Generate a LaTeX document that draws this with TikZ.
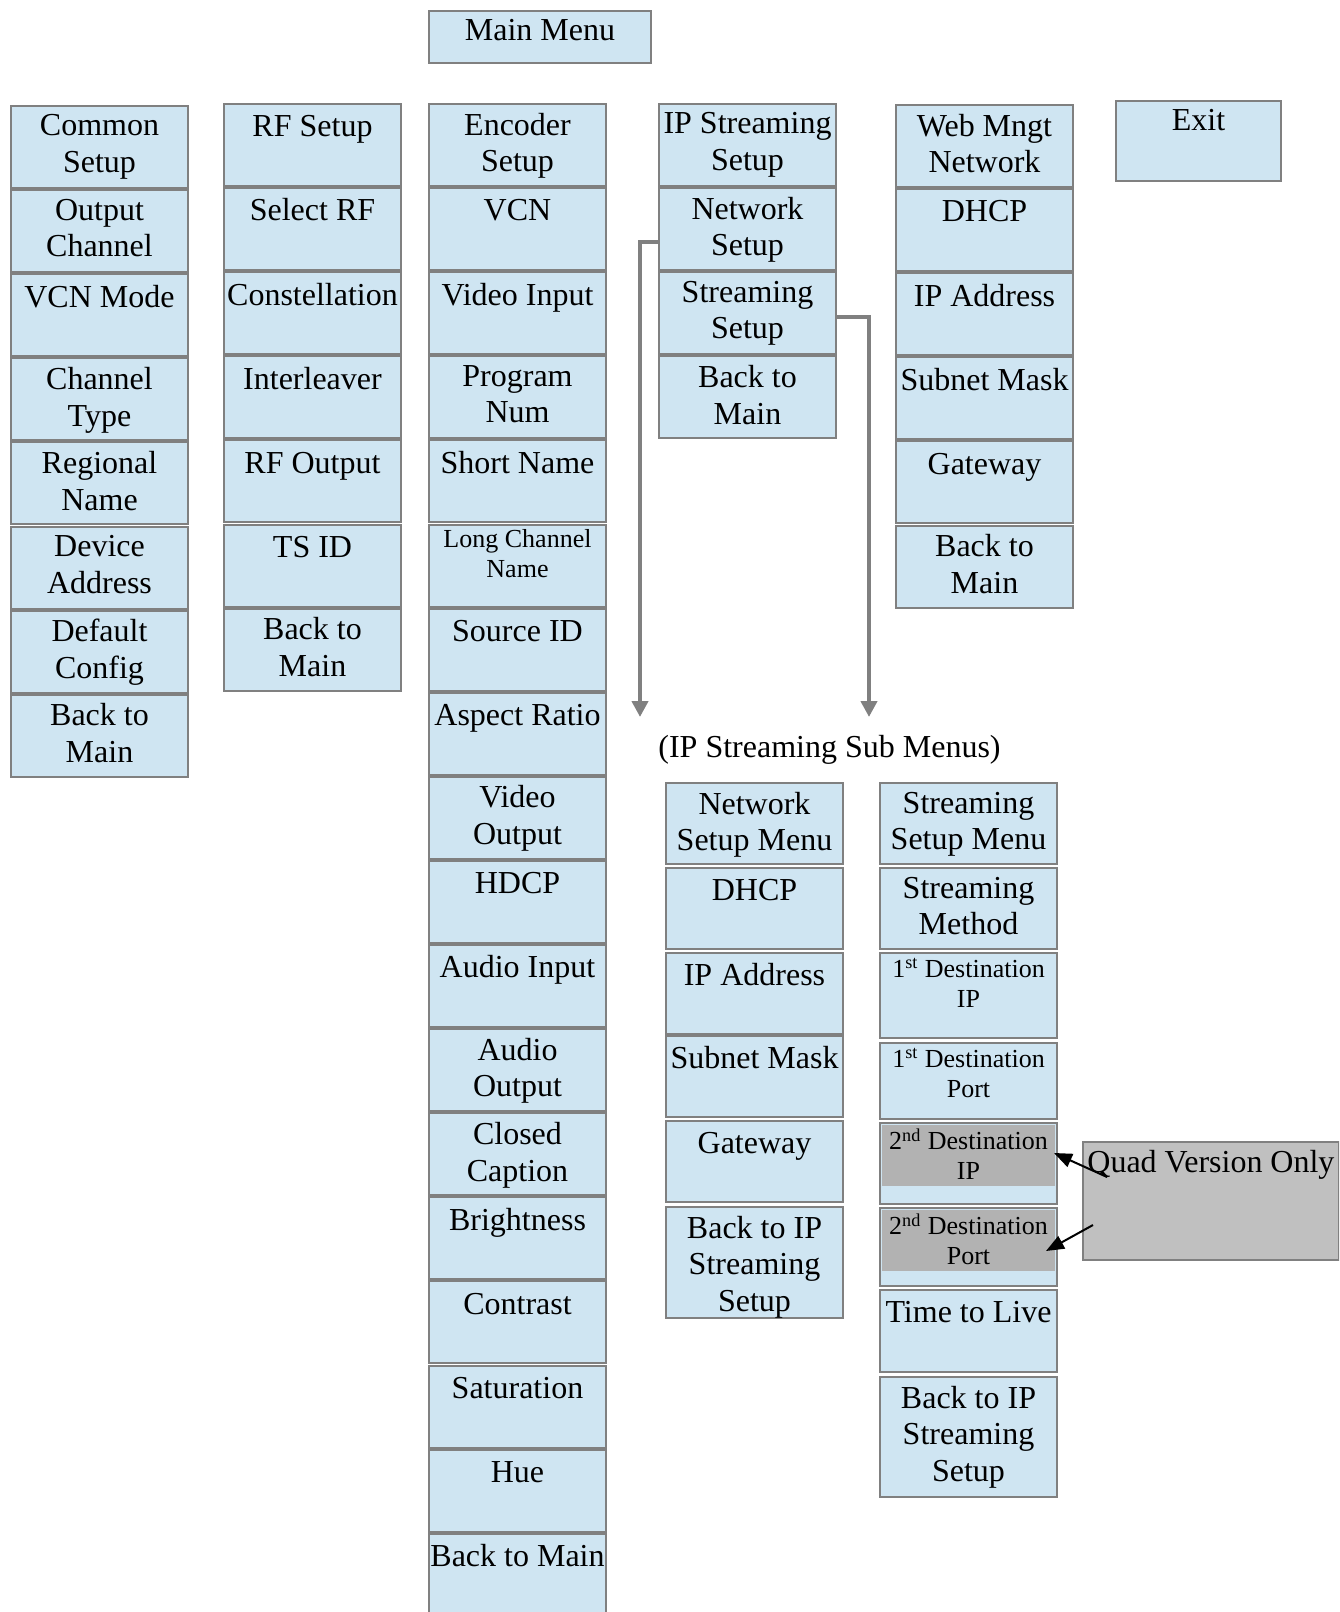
\documentclass[tikz,border=0pt]{standalone}
\usepackage{fontspec}
\setmainfont{Liberation Serif}
\usetikzlibrary{arrows.meta}

\definecolor{menublue}{RGB}{207,229,242}
\definecolor{menuedge}{RGB}{128,128,128}
\definecolor{quadgray}{RGB}{192,192,192}
\definecolor{optgray}{RGB}{178,178,178}

\begin{document}
\begin{tikzpicture}[x=0.5pt,y=-0.5pt,
    menubox/.style={draw=menuedge,line width=1pt,fill=menublue,anchor=north west,
        inner sep=0pt,minimum width=88.5pt,minimum height=41pt},
    menutext/.style={anchor=north,inner sep=0pt,yshift=-4.7pt,align=center,
        font=\fontsize{16}{18.4}\selectfont,execute at begin node={\rule{0pt}{12pt}}},
    smalltext/.style={anchor=north,inner sep=0pt,yshift=-3pt,align=center,
        font=\fontsize{13}{15}\selectfont,execute at begin node={\rule{0pt}{10pt}}},
    feed/.style={draw=menuedge,line width=2pt,-{Triangle[length=8pt,width=8pt]}},
    pointer/.style={draw=black,line width=1pt,-{Triangle[length=9pt,width=7pt]}}]
        \useasboundingbox (0,0) rectangle (1339,1612);
        \clip (0,0) rectangle (1339,1612);
        \node[menubox,minimum width=111pt,minimum height=26pt] (main) at (428,10) {};
        \node[menutext,yshift=1.5pt] at (main.north) {Main Menu};
        \foreach \ctext [count=\i] in {{Common\\Setup},{Output\\Channel},{VCN Mode},
            {Channel\\Type},{Regional\\Name},{Device\\Address},{Default\\Config},{Back to\\Main}} {
            \node[menubox] (common\i) at (10,{105+(\i-1)*84.1}) {};
            \node[menutext] at (common\i.north) {\ctext};
        }
        \foreach \rtext [count=\i] in {RF Setup,Select RF,Constellation,Interleaver,
            RF Output,TS ID,{Back to\\Main}} {
            \node[menubox] (rf\i) at (223,{103+(\i-1)*84.1}) {};
            \node[menutext] at (rf\i.north) {\rtext};
        }
        \foreach \etext/\estyle [count=\i] in {{Encoder\\Setup}/menutext,VCN/menutext,
            {Video Input}/menutext,{Program\\Num}/menutext,{Short Name}/menutext,
            {Long Channel\\Name}/smalltext,{Source ID}/menutext,{Aspect Ratio}/menutext,
            {Video\\Output}/menutext,HDCP/menutext,{Audio Input}/menutext,
            {Audio\\Output}/menutext,{Closed\\Caption}/menutext,Brightness/menutext,
            Contrast/menutext,Saturation/menutext,Hue/menutext,{Back to Main}/menutext} {
            \node[menubox] (enc\i) at (428,{103+(\i-1)*84.1}) {};
            \node[\estyle] at (enc\i.north) {\etext};
        }
        \foreach \itext [count=\i] in {{IP Streaming\\Setup},{Network\\Setup},
            {Streaming\\Setup},{Back to\\Main}} {
            \node[menubox] (ip\i) at (658,{103+(\i-1)*84.1}) {};
            \node[menutext] at (ip\i.north) {\itext};
        }
        \foreach \wtext [count=\i] in {{Web Mngt\\Network},DHCP,IP Address,Subnet Mask,
            Gateway,{Back to\\Main}} {
            \node[menubox] (web\i) at (895,{104+(\i-1)*84.1}) {};
            \node[menutext] at (web\i.north) {\wtext};
        }
        \node[menubox,minimum width=82.5pt,minimum height=40pt] (exit) at (1115,100) {};
        \node[menutext,yshift=1.5pt] at (exit.north) {Exit};
        % sub menus
        \node[anchor=base west,inner sep=0pt,font=\fontsize{16}{19}\selectfont] (submenus)
            at (658,757) {(IP Streaming Sub Menus)};
        \foreach \ytop/\boxh/\ntext [count=\i] in {782/81/{Network\\Setup Menu},
            867/81/DHCP,952/81/{IP Address},1035/81/{Subnet Mask},1120/81/Gateway,
            1206/111/{Back to IP\\Streaming\\Setup}} {
            \node[menubox,minimum height=\boxh*0.5pt] (net\i) at (665,\ytop) {};
            \node[menutext] at (net\i.north) {\ntext};
        }
        \foreach \ytop/\boxh/\stext/\sstyle/\sfill [count=\i] in {
            782/81/{Streaming\\Setup Menu}/menutext/menublue,
            867/81/{Streaming\\Method}/menutext/menublue,
            952/85/{1\textsuperscript{st} Destination\\IP}/smalltext/menublue,
            1042/76/{1\textsuperscript{st} Destination\\Port}/smalltext/menublue,
            1122/81/{2\textsuperscript{nd} Destination\\IP}/smalltext/optgray,
            1207/78/{2\textsuperscript{nd} Destination\\Port}/smalltext/optgray,
            1289/82/{Time to Live}/menutext/menublue,
            1376/120/{Back to IP\\Streaming\\Setup}/menutext/menublue} {
            \node[menubox,minimum height=\boxh*0.5pt] (strm\i) at (879,\ytop) {};
            \fill[\sfill] ([shift={(3,3)}]strm\i.north west) rectangle ([shift={(-3,64)}]strm\i.north east);
            \node[\sstyle] at (strm\i.north) {\stext};
        }
        \node[menubox,fill=quadgray,minimum width=128pt,minimum height=59pt] (quad) at (1082,1141) {};
        \node[anchor=base west,inner sep=0pt,font=\fontsize{16}{19}\selectfont]
            at ([shift={(5,31)}]quad.north west) {Quad Version Only};
        % connectors
        \coordinate (netdrop) at (640,717);
        \coordinate (strdrop) at (869,717);
        \draw[feed] ([yshift=-6.5pt]ip2.west) -| (netdrop);
        \draw[feed] ([yshift=-2pt]ip3.east) -| (strdrop);
        \draw[pointer] ([shift={(25,36)}]quad.north west) -- ([shift={(-4,31)}]strm5.north east);
        \draw[pointer] ([shift={(11,84)}]quad.north west) -- ([shift={(-12,44)}]strm6.north east);
    \end{tikzpicture}
\end{document}
